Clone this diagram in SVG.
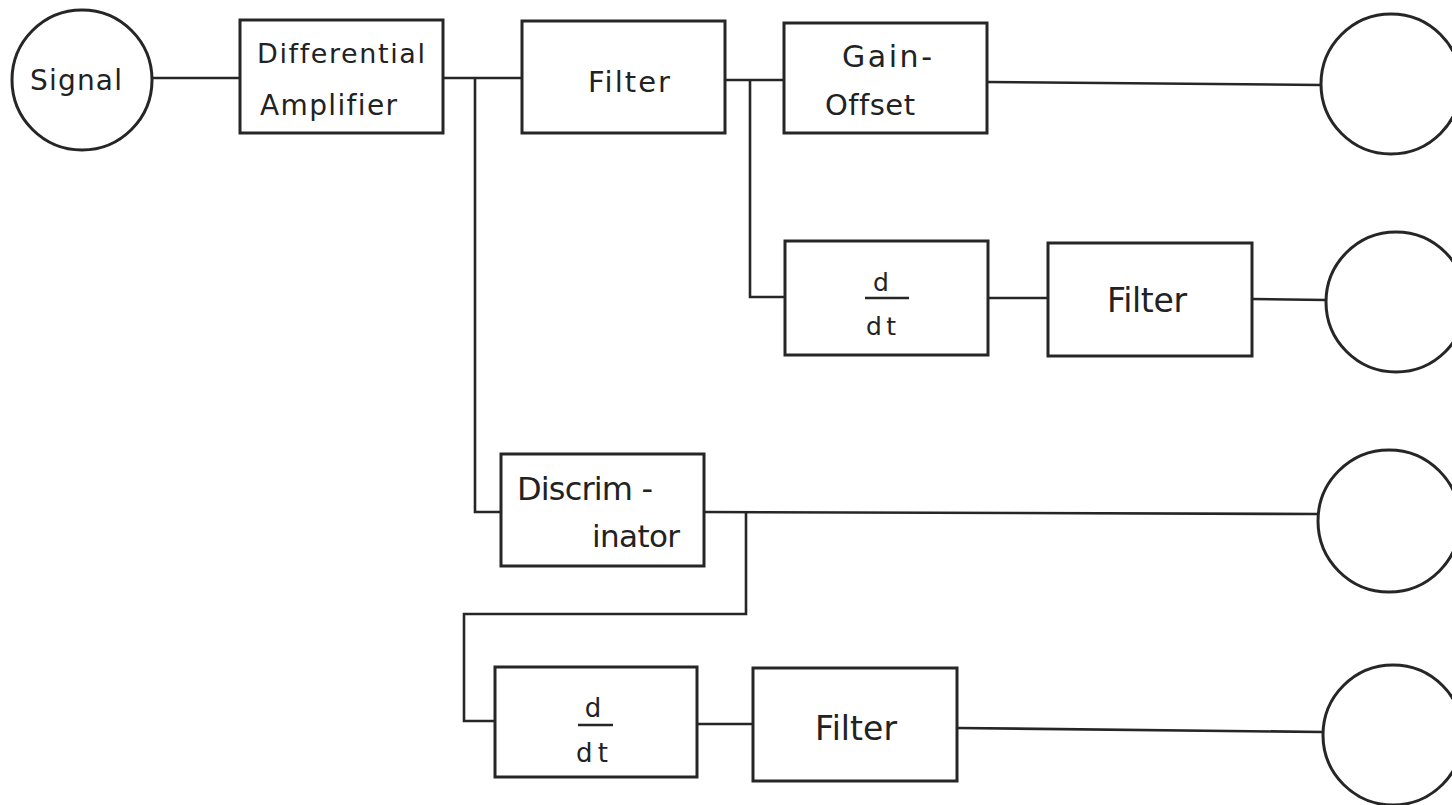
<svg xmlns="http://www.w3.org/2000/svg" width="1452" height="805" viewBox="0 0 1452 805">
  <style>
    .box { fill: none; stroke: #262626; stroke-width: 3; }
    .node { fill: none; stroke: #262626; stroke-width: 3; }
    .wire { fill: none; stroke: #262626; stroke-width: 2.6; stroke-linejoin: miter; }
    .lbl { font-family: "DejaVu Sans", "Liberation Sans", sans-serif; fill: #222; font-variant-ligatures: none; font-feature-settings: "liga" 0, "clig" 0; }
    .mid { text-anchor: middle; }
  </style>
  <rect width="1452" height="805" fill="#ffffff"/>

  <!-- connectors -->
  <g id="connectors">
    <path class="wire" d="M152 78 H240"/>
    <path class="wire" d="M443 78 H522"/>
    <path class="wire" d="M475 78 V512 H501"/>
    <path class="wire" d="M725 80 H784"/>
    <path class="wire" d="M750 80 V297 H785"/>
    <path class="wire" d="M987 82 L1321 85"/>
    <path class="wire" d="M988 298 H1048"/>
    <path class="wire" d="M1252 299 L1326 300"/>
    <path class="wire" d="M704 512 L1318 514"/>
    <path class="wire" d="M746 512 V614 H464 V721 H495"/>
    <path class="wire" d="M697 724 H753"/>
    <path class="wire" d="M957 728 L1323 732"/>
  </g>

  <!-- source -->
  <g id="signal">
    <circle class="node" cx="82" cy="80" r="70"/>
    <text class="lbl" x="30" y="90" font-size="28" textLength="92" lengthAdjust="spacing">Signal</text>
  </g>

  <!-- top path -->
  <g id="diff-amp">
    <rect class="box" x="240" y="20" width="203" height="113"/>
    <text class="lbl" x="257" y="63" font-size="27" textLength="168" lengthAdjust="spacing">Differential</text>
    <text class="lbl" x="260" y="115" font-size="28" textLength="137" lengthAdjust="spacing">Amplifier</text>
  </g>
  <g id="filter-1">
    <rect class="box" x="522" y="21" width="203" height="112"/>
    <text class="lbl" x="588" y="92" font-size="29" textLength="82" lengthAdjust="spacing">Filter</text>
  </g>
  <g id="gain-offset">
    <rect class="box" x="784" y="23" width="203" height="110"/>
    <text class="lbl" x="842" y="67" font-size="30" textLength="90" lengthAdjust="spacing">Gain-</text>
    <text class="lbl" x="825" y="115" font-size="29" textLength="90" lengthAdjust="spacing">Offset</text>
  </g>
  <g id="out-1">
    <circle class="node" cx="1391" cy="84" r="70"/>
  </g>

  <!-- derivative of filtered signal -->
  <g id="ddt-1">
    <rect class="box" x="785" y="241" width="203" height="114"/>
    <text class="lbl mid" x="881" y="291" font-size="25">d</text>
    <line class="wire" x1="865" y1="298" x2="909" y2="298"/>
    <text class="lbl" x="866" y="335" font-size="25" textLength="30" lengthAdjust="spacing">dt</text>
  </g>
  <g id="filter-2">
    <rect class="box" x="1048" y="243" width="204" height="113"/>
    <text class="lbl" x="1107" y="312" font-size="33" textLength="80" lengthAdjust="spacing">Filter</text>
  </g>
  <g id="out-2">
    <circle class="node" cx="1396" cy="302" r="70"/>
  </g>

  <!-- discriminator path -->
  <g id="discriminator">
    <rect class="box" x="501" y="454" width="203" height="112"/>
    <text class="lbl" x="517" y="500" font-size="32" textLength="136" lengthAdjust="spacing">Discrim -</text>
    <text class="lbl" x="592" y="547" font-size="31" textLength="88" lengthAdjust="spacing">inator</text>
  </g>
  <g id="out-3">
    <circle class="node" cx="1389" cy="521" r="71"/>
  </g>

  <!-- derivative of discriminator output -->
  <g id="ddt-2">
    <rect class="box" x="495" y="667" width="202" height="110"/>
    <text class="lbl mid" x="593" y="717" font-size="26">d</text>
    <line class="wire" x1="578" y1="725" x2="613" y2="725"/>
    <text class="lbl" x="576" y="762" font-size="26" textLength="32" lengthAdjust="spacing">dt</text>
  </g>
  <g id="filter-3">
    <rect class="box" x="753" y="668" width="204" height="113"/>
    <text class="lbl" x="815" y="740" font-size="33" textLength="82" lengthAdjust="spacing">Filter</text>
  </g>
  <g id="out-4">
    <circle class="node" cx="1393" cy="735" r="70"/>
  </g>
</svg>
